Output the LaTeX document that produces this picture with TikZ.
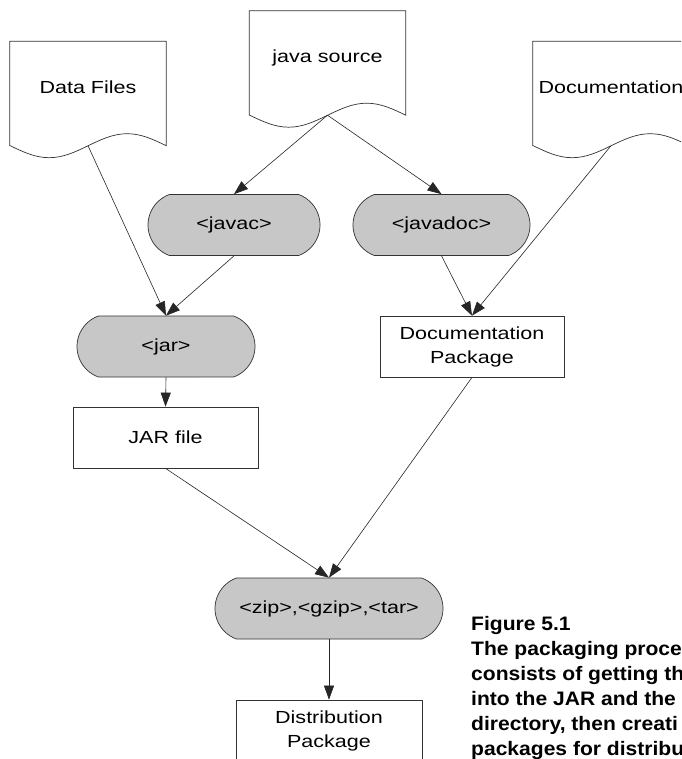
\documentclass[tikz,border=0pt]{standalone}
\usepackage{fontspec}
\setmainfont{Liberation Sans}[FakeStretch=1.23]
\newfontfamily\capfont{Liberation Sans}[FakeStretch=1.08]
\usetikzlibrary{arrows.meta,shapes.misc}

\begin{document}
\begin{tikzpicture}[x=1pt,y=-1pt]
\fontsize{17.5}{24}\selectfont
\tikzset{
    task/.style={rounded rectangle, rounded rectangle arc length=140, draw=black!80, fill=black!22, line width=0.7pt, minimum height=61pt, inner sep=0pt},
    box/.style={draw=black!80, fill=white, line width=0.7pt, minimum height=61pt, align=center, inner sep=0pt},
    doc/.style={minimum width=156pt, minimum height=104pt, inner sep=0pt, text height=10pt, text depth=10pt},
    outline/.style={draw=black!80, line width=0.7pt},
    flow/.style={draw=black!85, line width=0.6pt, -{Triangle[length=14pt,width=10pt]}},
}
\path[use as bounding box, clip] (0,0) rectangle (681,759);
\fill[white] (0,0) rectangle (681,759);

% The three input documents.
\node[doc] (data) at (88,93.5) {Data Files};
\node[doc] (src)  at (327.5,63) {java source};
\node[doc] (docs) at (611,93.5) {Documentation};
\foreach \n in {data,src,docs}
  \draw[outline] (\n.south west) -- (\n.north west) -- (\n.north east) -- (\n.south east)
    sin ++(-39,-12) cos ++(-39,12) sin ++(-39,12) cos ++(-39,-12) -- cycle;

% Ant tasks and their products.
\node[task, minimum width=172pt] (javac)   at (234,225)   {<javac>};
\node[task, minimum width=177pt] (javadoc) at (441.5,225) {<javadoc>};
\node[task, minimum width=178pt] (jar)     at (166,346.5) {<jar>};
\node[box,  minimum width=184pt] (docpkg)  at (472,346.5) {Documentation\\Package};
\node[box,  minimum width=185pt] (jarfile) at (165.5,437.5) {JAR file};
\node[task, minimum width=228pt] (zip)     at (329,608.5) {<zip>,<gzip>,<tar>};
\node[box,  minimum width=186pt] (dist)    at (329,730.5) {Distribution\\Package};

% Connectors.
\draw[flow] (src.south) -- (javac.north);
\draw[flow] (src.south) -- (javadoc.north);
\draw[flow] (data.south) -- (jar.north);
\draw[flow] (javac.south) -- (jar.north);
\draw[flow] (javadoc.south) -- (docpkg.north);
\draw[flow] (docs.south) -- (docpkg.north);
\draw[flow] (jar.south) -- (jarfile.north);
\draw[flow] (jarfile.south) -- (zip.north);
\draw[flow] (docpkg.south) -- (zip.north);
\draw[flow] (zip.south) -- (dist.north);

% Caption, cut off at the right edge.
\node[anchor=north west, inner sep=0pt, align=left, font=\capfont\bfseries\fontsize{19.5}{25}\selectfont]
  (caption) at (471,616) {Figure 5.1\\The packaging proce\\consists of getting th\\into the JAR and the\\directory, then creati\\packages for distribu};
\end{tikzpicture}
\end{document}
